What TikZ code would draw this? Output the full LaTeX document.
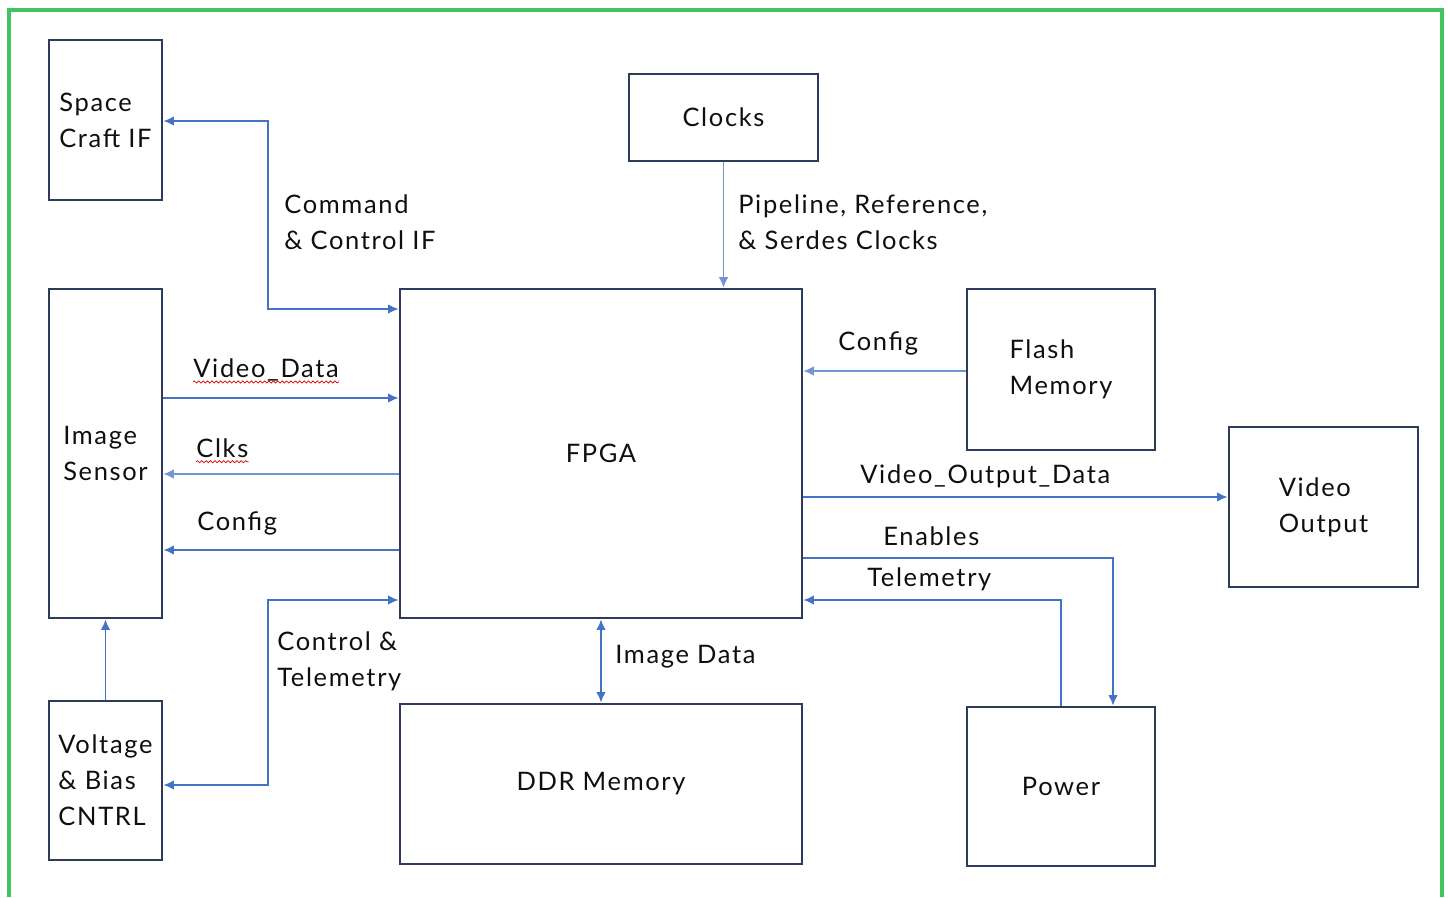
\documentclass[tikz,border=0pt]{standalone}
\usepackage{fontspec}
\setmainfont[LetterSpace=6.5]{Lato}
\usetikzlibrary{arrows.meta,decorations.pathmorphing}
\definecolor{boxnavy}{RGB}{46,60,92}
\definecolor{linkblue}{RGB}{68,114,196}
\definecolor{framegreen}{RGB}{66,196,98}
\definecolor{inkgray}{RGB}{15,15,15}
\begin{document}
\begin{tikzpicture}[x=0.02cm, y=-0.02cm, >={Latex[length=6pt,width=5.5pt]}] % схема блоков
\tikzstyle{block} = [draw=boxnavy, line width=1.6pt, align=left, inner sep=0pt, text=inkgray, font=\fontsize{14.5}{20.4}\selectfont] % прямоугольный блок
\tikzstyle{lbl} = [anchor=west, align=left, inner sep=0pt, text=inkgray, font=\fontsize{14.5}{20.4}\selectfont] % подпись у линии
\tikzstyle{link} = [draw=linkblue, line width=1.1pt] % основная связь
\tikzstyle{linklight} = [draw=linkblue!75, line width=0.85pt] % тонкая связь
\tikzstyle{squig} = [draw=red!85!black, line width=0.4pt, decorate, decoration={snake, amplitude=0.6pt, segment length=2.5pt}] % подчеркивание орфографии

\useasboundingbox (0,0) rectangle (1448,897);
\draw[framegreen, line width=2.3pt] (9,897) -- (9,10) -- (1442,10) -- (1442,897); % рамка

% блоки
\node[block, minimum width=2.26cm, minimum height=3.2cm] (craft) at (105.5,120) {Space\\Craft IF};
\node[block, minimum width=2.26cm, minimum height=6.58cm] (sensor) at (105.5,453.5) {Image\\Sensor};
\node[block, minimum width=2.26cm, minimum height=3.18cm] (bias) at (105.5,780.5) {Voltage\\\& Bias\\CNTRL};
\node[block, minimum width=3.78cm, minimum height=1.74cm] (clocks) at (723.5,117.5) {Clocks};
\node[block, minimum width=8.04cm, minimum height=6.58cm] (fpga) at (601,453.5) {FPGA};
\node[block, minimum width=3.76cm, minimum height=3.22cm] (flash) at (1061,369.5) {Flash\\Memory};
\node[block, minimum width=3.78cm, minimum height=3.2cm] (vout) at (1323.5,507) {Video\\Output};
\node[block, minimum width=8.04cm, minimum height=3.2cm] (ddr) at (601,784) {DDR Memory};
\node[block, minimum width=3.76cm, minimum height=3.18cm] (power) at (1061,786.5) {Power};

% точки изломов
\coordinate (cmdA) at (268,121);
\coordinate (cmdB) at (268,309);
\coordinate (ctlA) at (268,600);
\coordinate (ctlB) at (268,785);
\coordinate (vdat) at (0,398);
\coordinate (clks) at (0,474);
\coordinate (cfgL) at (0,550);
\coordinate (cfgR) at (0,371);
\coordinate (vodat) at (0,497);
\coordinate (enA) at (1113,558);
\coordinate (telA) at (1061,600);

% связи
\draw[link, <->] (craft.east |- cmdA) -- (cmdA) -- (cmdB) -- (fpga.west |- cmdB);
\draw[link, ->] (sensor.east |- vdat) -- (fpga.west |- vdat);
\draw[linklight, ->] (fpga.west |- clks) -- (sensor.east |- clks);
\draw[link, ->] (fpga.west |- cfgL) -- (sensor.east |- cfgL);
\draw[link, <->] (fpga.west |- ctlA) -- (ctlA) -- (ctlB) -- (bias.east |- ctlB);
\draw[link, ->] (bias) -- (sensor);
\draw[linklight, ->] (clocks) -- (clocks |- fpga.north);
\draw[linklight, ->] (flash.west |- cfgR) -- (fpga.east |- cfgR);
\draw[link, ->] (fpga.east |- vodat) -- (vout.west |- vodat);
\draw[link, ->] (fpga.east |- enA) -- (enA) -- (enA |- power.north);
\draw[link, ->] (telA |- power.north) -- (telA) -- (fpga.east |- telA);
\draw[link, <->] (fpga) -- (ddr);

% подписи
\node[lbl] (lcmd) at (284,222) {Command\\\& Control IF};
\node[lbl] (lpipe) at (738,222) {Pipeline, Reference,\\\& Serdes Clocks};
\node[lbl] (lvdat) at (193,370) {Video\_Data};
\node[lbl] (lclks) at (196,448) {Clks};
\node[lbl] (lcfgL) at (197,523) {Config};
\node[lbl] (lctl) at (277,661) {Control \&\\Telemetry};
\node[lbl] (lcfgR) at (838,343) {Config};
\node[lbl] (lvodat) at (860,476) {Video\_Output\_Data};
\node[lbl] (len) at (883,536) {Enables};
\node[lbl] (ltel) at (867,579) {Telemetry};
\node[lbl] (limg) at (615,657) {Image Data};

\draw[squig] ([yshift=-2.5pt]lvdat.base west) -- ([yshift=-2.5pt]lvdat.base east);
\draw[squig] ([yshift=-2.5pt]lclks.base west) -- ([yshift=-2.5pt]lclks.base east);
\end{tikzpicture}
\end{document}
